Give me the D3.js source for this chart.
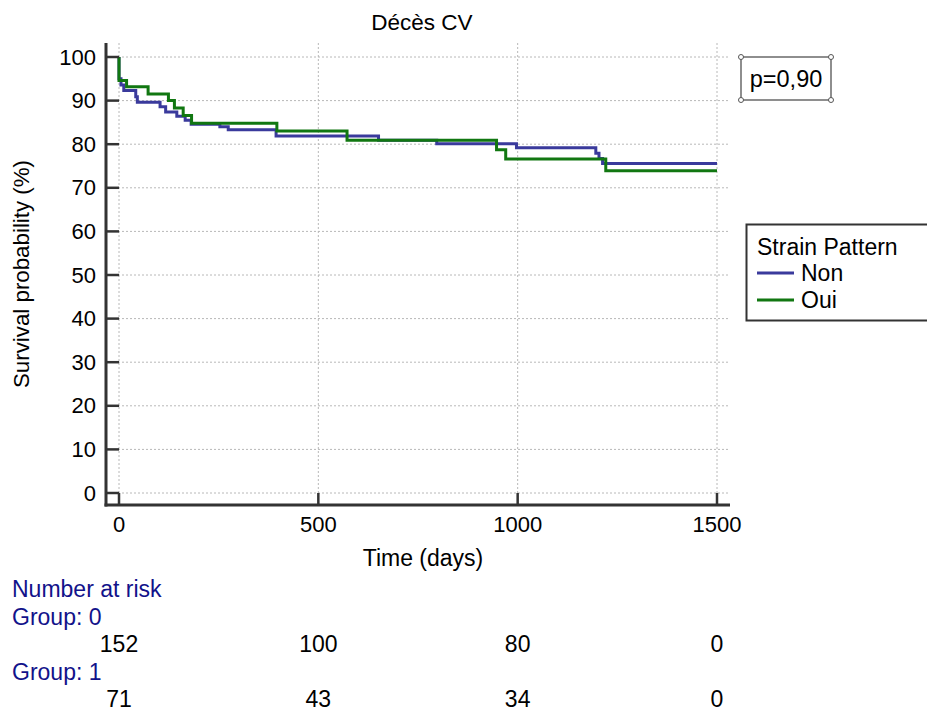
<!DOCTYPE html>
<html>
<head>
<meta charset="utf-8">
<script src="https://cdn.jsdelivr.net/npm/d3@7"></script>
<style>
  body { margin: 0; background: #fff; }
  svg { font-family: "Liberation Sans", Arial, sans-serif; }
</style>
</head>
<body>
<svg id="chart" width="927" height="712"></svg>
<script>
// Kaplan-Meier steps
const nonTimes = [0, 0, 5, 12, 42, 46, 103, 117, 145, 166, 181, 253, 274, 394, 651, 797, 997, 1196, 1204, 1213, 1500];
const nonSurv  = [100, 95.0, 93.6, 92.3, 90.9, 89.6, 88.6, 87.4, 86.4, 85.5, 84.6, 84.0, 83.3, 81.9, 80.9, 80.1, 79.2, 77.9, 76.7, 75.6, 75.6];
const ouiTimes = [0, 0, 19, 73, 124, 139, 161, 182, 396, 572, 947, 970, 1221, 1500];
const ouiSurv  = [100, 94.6, 93.2, 91.5, 90.0, 88.3, 86.6, 84.8, 83.0, 80.9, 78.7, 76.6, 73.9, 73.9];

const xTicks = [0, 500, 1000, 1500];
const yTicks = [0, 10, 20, 30, 40, 50, 60, 70, 80, 90, 100];

const riskTimes  = [0, 500, 1000, 1500];
const riskGroup0 = [152, 100, 80, 0];
const riskGroup1 = [71, 43, 34, 0];

const seriesNames = ["Non", "Oui"];
const colors = { Non: "#3a3a9c", Oui: "#117711" };

const svg = d3.select("#chart");

const x = d3.scaleLinear().domain([0, 1500]).range([119, 717]);
const y = d3.scaleLinear().domain([0, 100]).range([493, 57]);

const frameL = x(0) - 13, frameR = x(1500) + 13;
const frameT = y(100) - 14, frameB = y(0) + 12;

// grid
const grid = svg.append("g")
    .attr("stroke", "#b8b8b8")
    .attr("stroke-width", 1)
    .attr("stroke-dasharray", "2,2");
grid.selectAll("line.h").data(yTicks).join("line")
    .attr("class", "h")
    .attr("x1", frameL).attr("x2", frameR)
    .attr("y1", d => y(d)).attr("y2", d => y(d));
grid.selectAll("line.v").data(xTicks).join("line")
    .attr("class", "v")
    .attr("x1", d => x(d)).attr("x2", d => x(d))
    .attr("y1", frameT).attr("y2", frameB);

// curves
const line = d3.line()
    .x(d => x(d[0]))
    .y(d => y(d[1]))
    .curve(d3.curveStepAfter);

const series = [
    { name: "Non", pts: d3.zip(nonTimes, nonSurv) },
    { name: "Oui", pts: d3.zip(ouiTimes, ouiSurv) }
];

svg.append("g").selectAll("path").data(series).join("path")
    .attr("fill", "none")
    .attr("stroke", d => colors[d.name])
    .attr("stroke-width", 3)
    .attr("d", d => line(d.pts));

// axes
const axisCol = "#333";
const yAxis = svg.append("g");
yAxis.append("line")
    .attr("x1", frameL).attr("x2", frameL)
    .attr("y1", frameT).attr("y2", frameB + 1.5)
    .attr("stroke", axisCol).attr("stroke-width", 3);
yAxis.selectAll("line.t").data(yTicks).join("line")
    .attr("class", "t")
    .attr("x1", frameL).attr("x2", x(0))
    .attr("y1", d => y(d)).attr("y2", d => y(d))
    .attr("stroke", axisCol).attr("stroke-width", 2.5);
yAxis.selectAll("text").data(yTicks).join("text")
    .attr("x", frameL - 10)
    .attr("y", d => y(d) + 7.5)
    .attr("text-anchor", "end")
    .attr("font-size", 22)
    .text(d => d);

const xAxis = svg.append("g");
xAxis.append("line")
    .attr("x1", frameL - 1.5).attr("x2", frameR)
    .attr("y1", frameB).attr("y2", frameB)
    .attr("stroke", axisCol).attr("stroke-width", 3);
xAxis.selectAll("line.t").data(xTicks).join("line")
    .attr("class", "t")
    .attr("x1", d => x(d)).attr("x2", d => x(d))
    .attr("y1", frameB).attr("y2", y(0))
    .attr("stroke", axisCol).attr("stroke-width", 2.5);
xAxis.selectAll("text").data(xTicks).join("text")
    .attr("x", d => x(d))
    .attr("y", frameB + 27)
    .attr("text-anchor", "middle")
    .attr("font-size", 22)
    .text(d => d);

// titles
svg.append("text")
    .attr("x", (frameL + frameR) / 2 + 4).attr("y", 30)
    .attr("text-anchor", "middle").attr("font-size", 22.5)
    .text("Décès CV");
svg.append("text")
    .attr("x", (frameL + frameR) / 2 + 5).attr("y", 566)
    .attr("text-anchor", "middle").attr("font-size", 23)
    .text("Time (days)");
svg.append("text")
    .attr("transform", "translate(29," + ((frameT + frameB) / 2) + ") rotate(-90)")
    .attr("text-anchor", "middle").attr("font-size", 22.3)
    .text("Survival probability (%)");

// p-value box
const pb = svg.append("g");
pb.append("rect")
    .attr("x", 741).attr("y", 57).attr("width", 90).attr("height", 43)
    .attr("fill", "#fff").attr("stroke", "#444").attr("stroke-width", 1.2);
pb.selectAll("circle").data([[741, 57], [831, 57], [741, 100], [831, 100]]).join("circle")
    .attr("cx", d => d[0]).attr("cy", d => d[1]).attr("r", 2.5)
    .attr("fill", "#fff").attr("stroke", "#555").attr("stroke-width", 1);
pb.append("text")
    .attr("x", 786).attr("y", 87)
    .attr("text-anchor", "middle").attr("font-size", 23.5)
    .text("p=0,90");

// legend
const lg = svg.append("g");
lg.append("rect")
    .attr("x", 746.5).attr("y", 224.5).attr("width", 200).attr("height", 96)
    .attr("fill", "#fff").attr("stroke", "#333").attr("stroke-width", 2);
lg.append("text")
    .attr("x", 757).attr("y", 255).attr("font-size", 23)
    .text("Strain Pattern");
const items = lg.selectAll("g.item").data(seriesNames).join("g")
    .attr("class", "item")
    .attr("transform", (d, i) => "translate(0," + (273 + i * 27) + ")");
items.append("line")
    .attr("x1", 757).attr("x2", 794)
    .attr("stroke", d => colors[d]).attr("stroke-width", 3);
items.append("text")
    .attr("x", 801).attr("y", 8).attr("font-size", 23)
    .text(d => d);

// number at risk
const navy = "#12128a";
const risk = svg.append("g").attr("font-size", 23);
risk.append("text").attr("x", 12).attr("y", 597).attr("fill", navy).text("Number at risk");
risk.append("text").attr("x", 12).attr("y", 625).attr("fill", navy).text("Group: 0");
risk.append("text").attr("x", 12).attr("y", 680).attr("fill", navy).text("Group: 1");
risk.selectAll("text.g0").data(riskGroup0).join("text")
    .attr("class", "g0")
    .attr("x", (d, i) => x(riskTimes[i]))
    .attr("y", 652).attr("text-anchor", "middle")
    .text(d => d);
risk.selectAll("text.g1").data(riskGroup1).join("text")
    .attr("class", "g1")
    .attr("x", (d, i) => x(riskTimes[i]))
    .attr("y", 707).attr("text-anchor", "middle")
    .text(d => d);
</script>
</body>
</html>
